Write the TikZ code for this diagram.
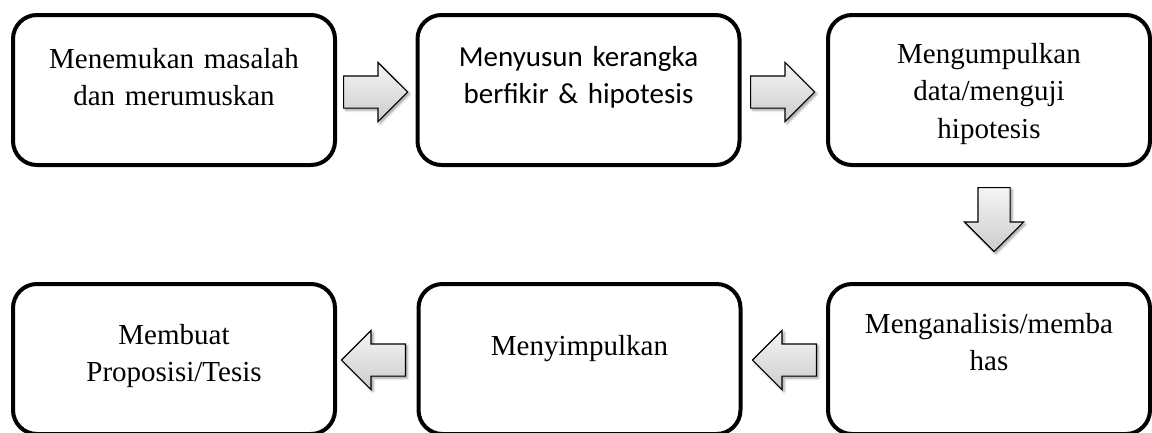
\documentclass[tikz,border=0pt]{standalone}
\usepackage{fontspec}
\setmainfont{Liberation Serif}
\newfontfamily\calibrifont{Carlito}
\usetikzlibrary{shapes.arrows,shadows.blur,calc}

\begin{document}
\begin{tikzpicture}[
        x=1pt, y=-1pt,
        stage/.style={rectangle, draw, line width=4pt, rounded corners=24pt, minimum width=322pt, minimum height=150pt, text width=300pt, align=center, inner sep=0pt, text height=#1, text depth={150pt-#1}, font=\fontsize{29}{37.5}\selectfont},
        stage/.default=52pt,
        flow/.style={single arrow, draw, line width=1.2pt, anchor=tail, minimum height=64pt, inner sep=15.5pt, single arrow head extend=13.5pt, top color=gray!8, bottom color=gray!40, blur shadow={shadow xshift=2pt, shadow yshift=-2pt, shadow blur radius=2.5pt, shadow opacity=40}}
    ]
        \useasboundingbox (0,0) rectangle (1152,432);

        % top row
        \node[stage=53pt] (s1) at (174,90) {Menemukan masalah\\dan merumuskan};
        \node[stage=51pt, font=\calibrifont\fontsize{29}{37}\selectfont] (s2) at (578.5,90) {Menyusun kerangka\\berfikir \& hipotesis};
        \node[stage=48pt] (s3) at (989,90) {Mengumpulkan\\data/menguji\\hipotesis};

        % bottom row
        \node[stage=60pt] (s4) at (174,359) {Membuat\\Proposisi/Tesis};
        \node[stage=71pt] (s5) at (579.5,359) {Menyimpulkan};
        \node[stage=49pt] (s6) at (989,359) {Menganalisis/memba\\has};

        % block arrows
        \node[flow] (a12) at ($(s1.east)+(6,2)$) {};
        \node[flow] (a23) at ($(s2.east)+(8.5,2)$) {};
        \node[flow, shape border rotate=270] (a36) at ($(s3.south)+(5,20)$) {};
        \node[flow, shape border rotate=180] (a65) at ($(s6.west)+(-9,1)$) {};
        \node[flow, shape border rotate=180] (a54) at ($(s5.west)+(-10.5,1)$) {};

    \end{tikzpicture}
\end{document}
